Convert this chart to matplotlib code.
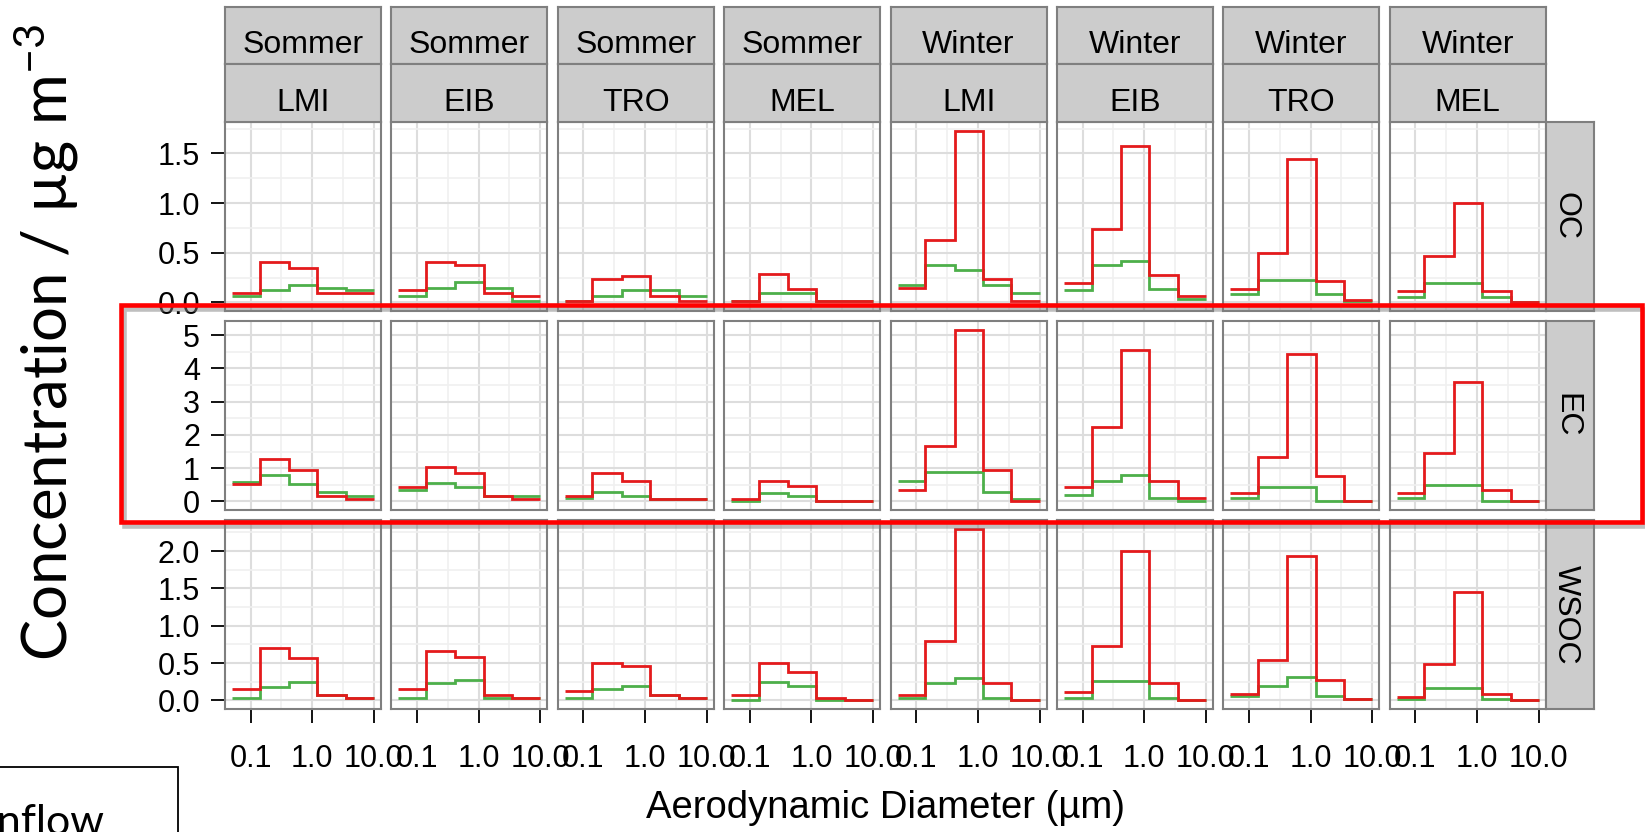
import matplotlib
matplotlib.use("Agg")
import matplotlib.pyplot as plt
import matplotlib.patheffects as pe
from matplotlib.patches import Rectangle
from matplotlib.ticker import NullFormatter

plt.rcParams['font.family'] = ['Liberation Sans', 'DejaVu Sans']
plt.rcParams['mathtext.default'] = 'regular'

# facets
seasons = ['Sommer'] * 4 + ['Winter'] * 4
sites = ['LMI', 'EIB', 'TRO', 'MEL'] * 2
species = ['OC', 'EC', 'WSOC']
# impactor stage edges (um)
edges = [0.05, 0.14, 0.42, 1.2, 3.5, 10.0]

# one row of 5 stage values per facet column (Sommer LMI..MEL, Winter LMI..MEL)
oc_red = [[0.09, 0.41, 0.35, 0.09, 0.09],
          [0.12, 0.41, 0.38, 0.09, 0.06],
          [0.01, 0.24, 0.27, 0.06, 0.01],
          [0.01, 0.29, 0.14, 0.01, 0.01],
          [0.15, 0.63, 1.73, 0.24, 0.01],
          [0.20, 0.74, 1.57, 0.28, 0.06],
          [0.14, 0.50, 1.44, 0.22, 0.02],
          [0.11, 0.47, 1.00, 0.11, 0.00]]
oc_green = [[0.06, 0.12, 0.18, 0.15, 0.12],
            [0.06, 0.15, 0.21, 0.15, 0.01],
            [0.01, 0.06, 0.12, 0.12, 0.06],
            [0.01, 0.09, 0.09, 0.01, 0.01],
            [0.18, 0.38, 0.33, 0.18, 0.09],
            [0.12, 0.38, 0.42, 0.14, 0.03],
            [0.08, 0.23, 0.23, 0.08, 0.01],
            [0.05, 0.20, 0.20, 0.05, 0.00]]
ec_red = [[0.52, 1.29, 0.94, 0.17, 0.07],
          [0.42, 1.04, 0.86, 0.17, 0.07],
          [0.17, 0.86, 0.60, 0.07, 0.07],
          [0.07, 0.61, 0.45, 0.00, 0.00],
          [0.35, 1.66, 5.17, 0.95, 0.00],
          [0.43, 2.25, 4.57, 0.61, 0.10],
          [0.25, 1.35, 4.43, 0.76, 0.00],
          [0.25, 1.45, 3.58, 0.33, 0.00]]
ec_green = [[0.59, 0.79, 0.52, 0.27, 0.17],
            [0.34, 0.54, 0.42, 0.17, 0.17],
            [0.09, 0.27, 0.17, 0.07, 0.07],
            [0.00, 0.25, 0.17, 0.00, 0.00],
            [0.61, 0.87, 0.87, 0.27, 0.08],
            [0.18, 0.61, 0.78, 0.10, 0.00],
            [0.09, 0.43, 0.43, 0.00, 0.00],
            [0.09, 0.50, 0.50, 0.00, 0.00]]
wsoc_red = [[0.15, 0.70, 0.57, 0.07, 0.03],
            [0.15, 0.66, 0.58, 0.07, 0.03],
            [0.12, 0.50, 0.46, 0.07, 0.03],
            [0.07, 0.50, 0.38, 0.03, 0.00],
            [0.07, 0.80, 2.30, 0.23, 0.00],
            [0.11, 0.73, 2.00, 0.23, 0.00],
            [0.09, 0.54, 1.93, 0.27, 0.02],
            [0.05, 0.49, 1.45, 0.09, 0.01]]
wsoc_green = [[0.03, 0.18, 0.24, 0.07, 0.03],
              [0.03, 0.23, 0.27, 0.03, 0.03],
              [0.03, 0.15, 0.19, 0.07, 0.03],
              [0.00, 0.24, 0.19, 0.00, 0.00],
              [0.03, 0.23, 0.30, 0.03, 0.00],
              [0.03, 0.26, 0.26, 0.03, 0.00],
              [0.06, 0.19, 0.31, 0.06, 0.02],
              [0.02, 0.16, 0.16, 0.02, 0.01]]

oc_ticks = [0.0, 0.5, 1.0, 1.5]
ec_ticks = [0, 1, 2, 3, 4, 5]
wsoc_ticks = [0.0, 0.5, 1.0, 1.5, 2.0]
x_ticks = [0.1, 1.0, 10.0]
x_labels = ['0.1', '1.0', '10.0']

RED = '#E41A1C'
GREEN = '#4DAF4A'
BORDER = '#7F7F7F'

W, H = 1645, 832
fig = plt.figure(figsize=(W / 100, H / 100), dpi=100)


def frac(x, y, w, h):
    return [x / W, 1 - (y + h) / H, w / W, h / H]


def strip(x, y, w, h, text, rot=0):
    sa = fig.add_axes(frac(x, y, w, h))
    sa.set_facecolor('#CCCCCC')
    sa.set_xticks([])
    sa.set_yticks([])
    for s in sa.spines.values():
        s.set_color(BORDER)
        s.set_linewidth(1.5)
    if rot == 0:
        sa.text(0.5, 0.19, text, ha='center', va='baseline', fontsize=23,
                transform=sa.transAxes)
    else:
        sa.text(0.42, 0.5, text, ha='center', va='center', fontsize=23,
                rotation=rot, transform=sa.transAxes)


col_x = [225 + i * 166.4 for i in range(8)]
row_y = [122, 321, 520]
pw, ph = 156, 189

rows = [(oc_red, oc_green, oc_ticks, '%.1f'),
        (ec_red, ec_green, ec_ticks, '%d'),
        (wsoc_red, wsoc_green, wsoc_ticks, '%.1f')]

for r, (red, green, ticks, fmt) in enumerate(rows):
    ymax = max(max(max(v) for v in red), max(max(v) for v in green))
    lo, hi = -0.05 * ymax, 1.05 * ymax
    step = ticks[1] - ticks[0]
    minor = [t + step / 2 for t in ticks] + [ticks[0] - step / 2]
    for c in range(8):
        ax = fig.add_axes(frac(col_x[c], row_y[r], pw, ph))
        ax.stairs(green[c], edges, baseline=None, color=GREEN, lw=2.0)
        ax.stairs(red[c], edges, baseline=None, color=RED, lw=2.0)
        ax.set_xscale('log')
        ax.set_xlim(10 ** -1.416, 10 ** 1.115)
        ax.set_xticks(x_ticks)
        ax.set_xticks([10 ** -0.5, 10 ** 0.5], minor=True)
        ax.xaxis.set_minor_formatter(NullFormatter())
        ax.set_yticks(ticks)
        ax.set_yticks(minor, minor=True)
        ax.set_ylim(lo, hi)
        ax.grid(which='major', color='#DDDDDD', lw=1.5)
        ax.grid(which='minor', color='#F0F0F0', lw=1.2)
        ax.set_axisbelow(True)
        ax.tick_params(which='minor', length=0)
        ax.tick_params(which='major', length=10, width=1.3, color='black',
                       labelsize=22, labelcolor='black')
        ax.tick_params(axis='y', pad=8)
        ax.tick_params(axis='x', pad=15)
        if c == 0:
            ax.set_yticklabels([fmt % t for t in ticks])
        else:
            ax.tick_params(axis='y', left=False, labelleft=False)
        if r == 2:
            ax.set_xticklabels(x_labels)
        else:
            ax.tick_params(axis='x', bottom=False, labelbottom=False)
        for s in ax.spines.values():
            s.set_color(BORDER)
            s.set_linewidth(1.5)
        if r == 0:
            strip(col_x[c], 7, pw, 57, seasons[c])
            strip(col_x[c], 64, pw, 58, sites[c])
    strip(col_x[7] + pw, row_y[r], 48, ph, species[r], rot=-90)

fig.text(886 / W, 1 - 808 / H, 'Aerodynamic Diameter (µm)', ha='center',
         va='center', fontsize=27.5)
fig.text(46 / W, 1 - 342 / H, 'Concentration / µg m$^{-3}$', rotation=90,
         ha='center', va='center', fontsize=44.5, family=['Lato', 'DejaVu Sans'])

# highlight box around the EC row
box = Rectangle((121 / W, 1 - 522 / H), (1642 - 121) / W, (522 - 305) / H,
                transform=fig.transFigure, fill=False, ec='#FF0000', lw=3.3,
                zorder=20)
box.set_path_effects([pe.SimpleLineShadow(offset=(2, -3), shadow_color='gray',
                                          alpha=0.5), pe.Normal()])
fig.add_artist(box)

# cropped legend box at the lower left
leg = Rectangle((-10 / W, -20 / H), 187.5 / W, (20 + 832 - 767) / H,
                transform=fig.transFigure, fill=False, ec='black', lw=1.3)
fig.add_artist(leg)
fig.text(104 / W, 1 - 835 / H, 'Inflow', ha='right', va='baseline',
         fontsize=31, family=['Lato', 'DejaVu Sans'])

fig.savefig('out.png', dpi=100)
